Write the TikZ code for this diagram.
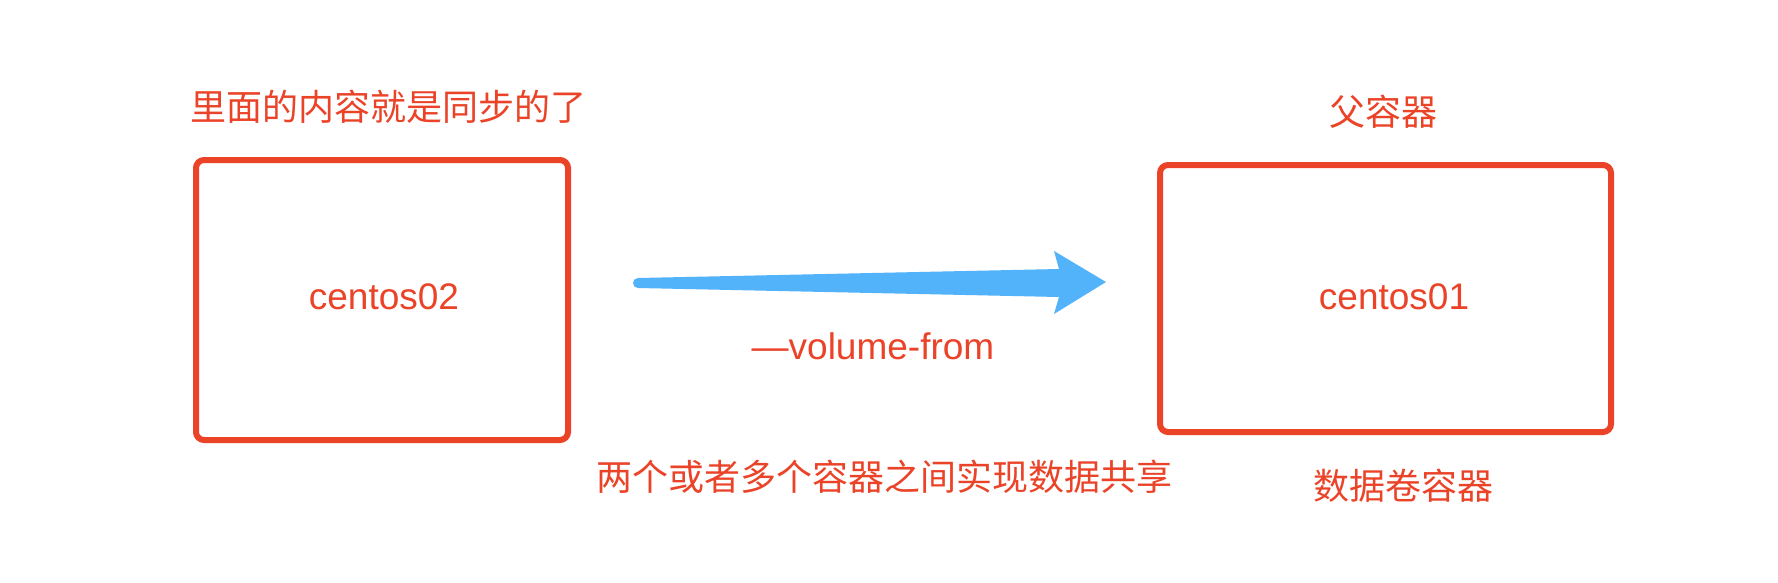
\documentclass[tikz,border=0pt]{standalone}
\usepackage{fontspec}
\setmainfont{Liberation Sans}
\newfontfamily\cjk{Noto Sans CJK SC}
\usepackage{xcolor}
\usepackage{tikz}
\usetikzlibrary{calc}

\definecolor{boxred}{RGB}{235,67,40}
\definecolor{arrowblue}{RGB}{82,178,250}

\tikzset{
    container/.style={draw=boxred, line width=6pt, rounded corners=8pt, inner sep=0pt},
    latintext/.style={text=boxred, inner sep=0pt, anchor=base, font=\fontsize{37}{44}\selectfont},
    cjktext/.style={text=boxred, inner sep=0pt, anchor=base, font=\cjk\fontsize{36}{43}\selectfont}
}

\begin{document}
\begin{tikzpicture}[x=1pt, y=-1pt]
        \useasboundingbox[fill=white] (0, 0) rectangle (1778, 582);

        \node[container, minimum width=372pt, minimum height=280pt] (box02) at (382, 300) {};
        \node[latintext] (name02) at (384, 309) {centos02};
        \node[cjktext] (sync) at (388, 120) {里面的内容就是同步的了};


        \node[container, minimum width=451pt, minimum height=267pt] (box01) at (1385.5, 298.5) {};
        \node[latintext] (name01) at (1394, 309) {centos01};
        \node[cjktext] (parent) at (1383, 125) {父容器};
        \node[cjktext] (volume) at (1403, 499) {数据卷容器};


        \coordinate (tail) at (638, 283);
        \coordinate (tip) at (1106, 282);
        \fill[arrowblue] ($(tail)+(0, -5)$) -- ($(tip)+(-47, -13)$) -- ($(tip)+(-52, -31)$) -- (tip)
            -- ($(tip)+(-52, 32)$) -- ($(tip)+(-47, 15)$) -- ($(tail)+(0, 5)$)
            arc[start angle=90, end angle=270, radius=5] -- cycle;
        \node[latintext] (flag) at (873, 359) {—volume-from};
        \node[cjktext] (share) at (884, 490) {两个或者多个容器之间实现数据共享};


    \end{tikzpicture}
\end{document}
